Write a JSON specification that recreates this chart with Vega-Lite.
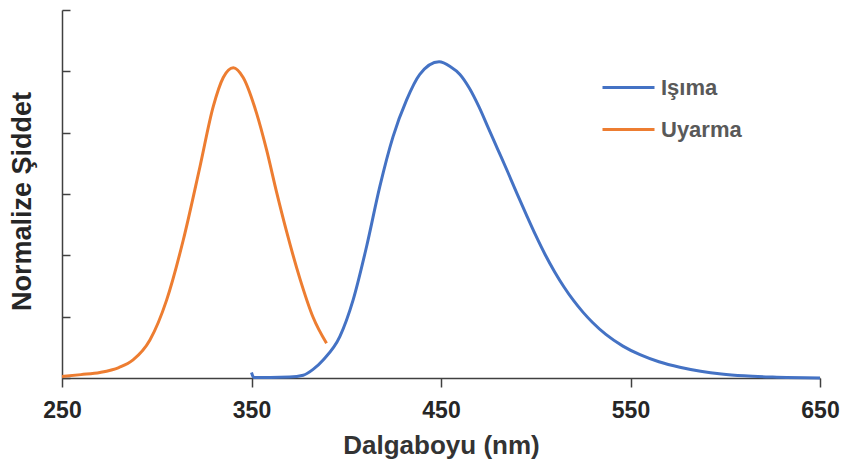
{
  "$schema": "https://vega.github.io/schema/vega-lite/v6.json",
  "width": 758,
  "height": 368,
  "autosize": "none",
  "padding": {"left": 62, "top": 10, "right": 21, "bottom": 85},
  "background": "white",
  "config": {"view": {"stroke": null}, "font": "Liberation Sans"},
  "data": {"values": [
    {"s": "Uyarma", "nm": 250, "v": 0.005},
    {"s": "Uyarma", "nm": 260, "v": 0.011},
    {"s": "Uyarma", "nm": 270, "v": 0.018},
    {"s": "Uyarma", "nm": 280, "v": 0.034},
    {"s": "Uyarma", "nm": 287.5, "v": 0.059},
    {"s": "Uyarma", "nm": 296.4, "v": 0.124},
    {"s": "Uyarma", "nm": 305.2, "v": 0.254},
    {"s": "Uyarma", "nm": 314, "v": 0.45},
    {"s": "Uyarma", "nm": 322.8, "v": 0.689},
    {"s": "Uyarma", "nm": 329.8, "v": 0.885},
    {"s": "Uyarma", "nm": 335.1, "v": 0.98},
    {"s": "Uyarma", "nm": 340.4, "v": 1.012},
    {"s": "Uyarma", "nm": 345.6, "v": 0.98},
    {"s": "Uyarma", "nm": 352.7, "v": 0.863},
    {"s": "Uyarma", "nm": 358, "v": 0.743},
    {"s": "Uyarma", "nm": 363.2, "v": 0.607},
    {"s": "Uyarma", "nm": 368.5, "v": 0.478},
    {"s": "Uyarma", "nm": 375.5, "v": 0.325},
    {"s": "Uyarma", "nm": 382.5, "v": 0.198},
    {"s": "Uyarma", "nm": 389.6, "v": 0.113},
    {"s": "Işıma", "nm": 350, "v": 0.018},
    {"s": "Işıma", "nm": 351.2, "v": 0.002},
    {"s": "Işıma", "nm": 360, "v": 0.002},
    {"s": "Işıma", "nm": 370, "v": 0.003},
    {"s": "Işıma", "nm": 377.3, "v": 0.009},
    {"s": "Işıma", "nm": 382.5, "v": 0.028},
    {"s": "Işıma", "nm": 387.8, "v": 0.059},
    {"s": "Işıma", "nm": 396.6, "v": 0.135},
    {"s": "Işıma", "nm": 403.6, "v": 0.254},
    {"s": "Işıma", "nm": 410.7, "v": 0.428},
    {"s": "Işıma", "nm": 417.7, "v": 0.624},
    {"s": "Işıma", "nm": 424.7, "v": 0.787},
    {"s": "Işıma", "nm": 431.8, "v": 0.906},
    {"s": "Işıma", "nm": 438.8, "v": 0.99},
    {"s": "Işıma", "nm": 449, "v": 1.031},
    {"s": "Işıma", "nm": 455, "v": 1.015},
    {"s": "Işıma", "nm": 460, "v": 0.99},
    {"s": "Işıma", "nm": 465, "v": 0.945},
    {"s": "Işıma", "nm": 470, "v": 0.885},
    {"s": "Işıma", "nm": 475, "v": 0.815},
    {"s": "Işıma", "nm": 480, "v": 0.745},
    {"s": "Işıma", "nm": 485, "v": 0.675},
    {"s": "Işıma", "nm": 490, "v": 0.603},
    {"s": "Işıma", "nm": 495, "v": 0.533},
    {"s": "Işıma", "nm": 500, "v": 0.465},
    {"s": "Işıma", "nm": 505, "v": 0.402},
    {"s": "Işıma", "nm": 510, "v": 0.346},
    {"s": "Işıma", "nm": 515, "v": 0.296},
    {"s": "Işıma", "nm": 520, "v": 0.252},
    {"s": "Işıma", "nm": 525, "v": 0.214},
    {"s": "Işıma", "nm": 530, "v": 0.181},
    {"s": "Işıma", "nm": 537, "v": 0.142},
    {"s": "Işıma", "nm": 546, "v": 0.104},
    {"s": "Işıma", "nm": 555, "v": 0.076},
    {"s": "Işıma", "nm": 565, "v": 0.053},
    {"s": "Işıma", "nm": 576, "v": 0.035},
    {"s": "Işıma", "nm": 587, "v": 0.022},
    {"s": "Işıma", "nm": 598, "v": 0.013},
    {"s": "Işıma", "nm": 610, "v": 0.007},
    {"s": "Işıma", "nm": 625, "v": 0.003},
    {"s": "Işıma", "nm": 650, "v": 0.0}
  ]},
  "mark": {"type": "line", "strokeWidth": 3, "interpolate": "monotone", "clip": false},
  "encoding": {
    "x": {
      "field": "nm", "type": "quantitative",
      "scale": {"domain": [250, 650], "nice": false, "zero": false},
      "axis": {
        "values": [250, 350, 450, 550, 650],
        "title": "Dalgaboyu (nm)",
        "grid": false,
        "domainColor": "#404040", "domainWidth": 1.5,
        "tickColor": "#404040", "tickSize": 9, "tickWidth": 1.5,
        "labelFont": "Liberation Sans", "labelFontSize": 23, "labelFontWeight": "bold",
        "labelColor": "#262626", "labelBaseline": "alphabetic", "labelPadding": 30, "labelFlush": false,
        "titleFont": "Liberation Sans", "titleFontSize": 26, "titleFontWeight": "bold",
        "titleColor": "#333333", "titleBaseline": "alphabetic", "titleY": 75
      }
    },
    "y": {
      "field": "v", "type": "quantitative",
      "scale": {"domain": [0, 1.2], "nice": false},
      "axis": {
        "values": [0, 0.2, 0.4, 0.6, 0.8, 1.0, 1.2],
        "labels": false,
        "title": "Normalize Şiddet",
        "grid": false,
        "domainColor": "#404040", "domainWidth": 1.5,
        "tickColor": "#404040", "tickSize": -8, "tickWidth": 1.5,
        "titleFont": "Liberation Sans", "titleFontSize": 27, "titleFontWeight": "bold",
        "titleColor": "#262626", "titleBaseline": "alphabetic", "titleAngle": -90,
        "titleX": -32, "titleY": 191, "titleAlign": "center"
      }
    },
    "color": {
      "field": "s", "type": "nominal",
      "scale": {"domain": ["Işıma", "Uyarma"], "range": ["#4472C4", "#ED7D31"]},
      "legend": {
        "title": null,
        "orient": "none",
        "legendX": 539,
        "legendY": 50,
        "symbolType": "stroke",
        "symbolSize": 2704,
        "symbolStrokeWidth": 3,
        "labelFont": "Liberation Sans",
        "labelFontSize": 22,
        "labelFontWeight": "bold",
        "labelColor": "#595959",
        "labelOffset": 5,
        "rowPadding": 3
      }
    }
  }
}
